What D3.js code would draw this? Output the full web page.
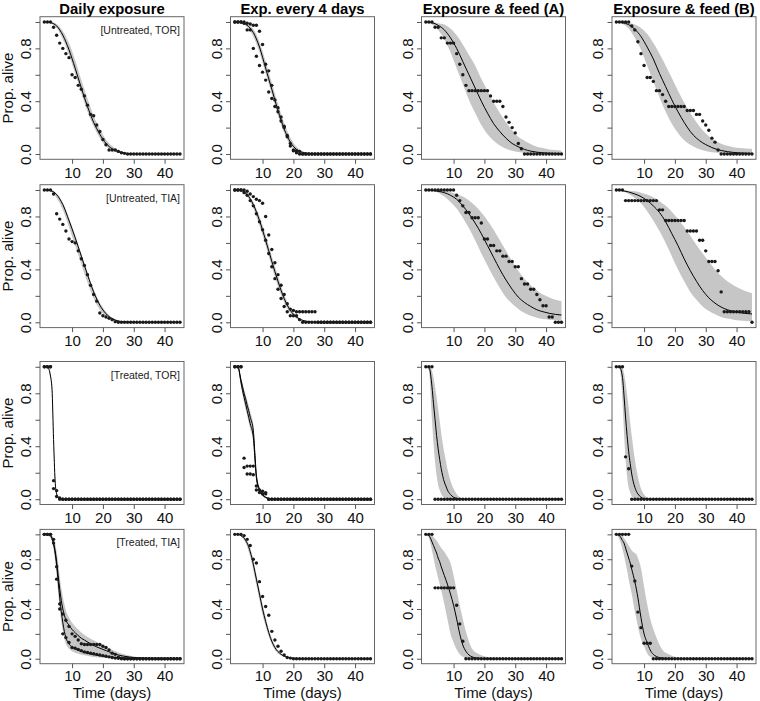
<!DOCTYPE html>
<meta charset="utf-8">

<style type="text/css">
  body {
    margin: 0;
    background: #fff;
  }

  svg {
    font-family: "Liberation Sans", Arial, Helvetica, sans-serif;
  }

  .tick line {
    stroke: #555;
  }

  .tick text {
    font-size: 15px;
    fill: #111;
  }
</style>

<body>
</body>

<script src="https://d3js.org/d3.v7.min.js"></script>
<script>
  // ---------- data ----------
  var columnTitles = ["Daily exposure", "Exp. every 4 days", "Exposure & feed (A)", "Exposure & feed (B)"];
  var rowTags = ["[Untreated, TOR]", "[Untreated, TIA]", "[Treated, TOR]", "[Treated, TIA]"];
  var xTicks = [10, 20, 30, 40];
  var yTicks = [0, 0.2, 0.4, 0.6, 0.8, 1];
  var yLabels = [0, 0.4, 0.8];

  var days = [1, 2, 3, 4, 5, 6, 7, 8, 9, 10, 11, 12, 13, 14, 15, 16, 17, 18, 19, 20, 21, 22, 23, 24, 25, 26, 27, 28, 29, 30,
    31, 32, 33, 34, 35, 36, 37, 38, 39, 40, 41, 42, 43, 44, 45];
  var gridA = [1, 3, 5, 7, 9, 11, 13, 15, 17, 19, 21, 23, 25, 27, 29, 31, 33, 35, 37, 39, 41, 43, 45];
  var gridB = [1, 2, 3, 3.5, 4, 4.5, 5, 5.5, 6, 7, 7.5, 8, 9, 10, 11, 12, 13, 14, 16, 18, 20, 25, 30, 35, 40, 45];

  // row 1 : untreated, TOR
  var ptsR1C1 = [1, 1, 1, 0.96, 0.90, 0.84, 0.80, 0.76, 0.73, 0.60, 0.58, 0.52, 0.49, 0.44, 0.37, 0.30, 0.29, 0.22, 0.17, 0.11, 0.07, 0.03, 0.03, 0.03, 0.02, 0.01, 0.005, 0, 0, 0, 0, 0, 0, 0, 0, 0, 0, 0, 0, 0, 0, 0, 0, 0, 0];
  var fitR1C1 = [1, 0.995, 0.97, 0.90, 0.79, 0.65, 0.50, 0.36, 0.24, 0.15, 0.08, 0.04, 0.018, 0.007, 0.002, 0, 0, 0, 0, 0, 0, 0, 0];
  var loR1C1 = [1, 0.99, 0.955, 0.87, 0.75, 0.61, 0.46, 0.32, 0.21, 0.12, 0.06, 0.025, 0.01, 0.003, 0.001, 0, 0, 0, 0, 0, 0, 0, 0];
  var hiR1C1 = [1, 1, 0.985, 0.93, 0.84, 0.71, 0.56, 0.42, 0.29, 0.19, 0.11, 0.06, 0.03, 0.012, 0.004, 0.001, 0, 0, 0, 0, 0, 0, 0];

  var ptsR1C2a = [1, 1, 1, 1, 0.99, 0.985, 0.975, 0.975, 0.93, 0.83, 0.68, 0.63, 0.52, 0.41, 0.35, 0.28, 0.21, 0.13, 0.08, 0.025, 0.025, 0.02, 0, 0, 0, 0, 0, 0, 0, 0, 0, 0, 0, 0, 0, 0, 0, 0, 0, 0, 0, 0, 0, 0, 0];
  var ptsR1C2b = [1, 1, 1, 0.99, 0.94, 0.94, 0.80, 0.74, 0.67, 0.62, 0.56, 0.47, 0.42, 0.36, 0.32, 0.25, 0.20, 0.14, 0.06, 0.03, 0.01, 0, 0, 0, 0, 0, 0, 0, 0, 0, 0, 0, 0, 0, 0, 0, 0, 0, 0, 0, 0, 0, 0, 0, 0];
  var fitR1C2 = [1, 0.995, 0.975, 0.92, 0.81, 0.65, 0.49, 0.33, 0.19, 0.09, 0.035, 0.012, 0.004, 0.001, 0, 0, 0, 0, 0, 0, 0, 0, 0];
  var loR1C2 = [1, 0.99, 0.96, 0.89, 0.77, 0.61, 0.45, 0.29, 0.16, 0.07, 0.025, 0.008, 0.002, 0, 0, 0, 0, 0, 0, 0, 0, 0, 0];
  var hiR1C2 = [1, 1, 0.985, 0.945, 0.85, 0.70, 0.54, 0.38, 0.235, 0.125, 0.055, 0.022, 0.008, 0.003, 0.001, 0, 0, 0, 0, 0, 0, 0, 0];

  var ptsR1C3 = [1, 1, 1, 0.96, 0.96, 0.88, 0.88, 0.84, 0.84, 0.84, 0.76, 0.68, 0.60, 0.52, 0.48, 0.48, 0.48, 0.48, 0.48, 0.48, 0.48, 0.44, 0.40, 0.40, 0.40, 0.36, 0.28, 0.24, 0.20, 0.16, 0.08, 0.04, 0, 0, 0, 0, 0, 0, 0, 0, 0, 0, 0, 0, 0];
  var fitR1C3 = [1, 0.995, 0.975, 0.94, 0.88, 0.80, 0.70, 0.60, 0.50, 0.40, 0.31, 0.23, 0.17, 0.12, 0.08, 0.055, 0.035, 0.022, 0.014, 0.009, 0.006, 0.004, 0.003];
  var loR1C3 = [1, 0.98, 0.94, 0.87, 0.77, 0.65, 0.53, 0.41, 0.31, 0.22, 0.15, 0.10, 0.065, 0.04, 0.025, 0.015, 0.01, 0.006, 0.004, 0.002, 0.001, 0.001, 0];
  var hiR1C3 = [1, 1, 0.99, 0.98, 0.95, 0.90, 0.83, 0.75, 0.67, 0.57, 0.48, 0.39, 0.31, 0.24, 0.18, 0.13, 0.10, 0.075, 0.055, 0.045, 0.035, 0.03, 0.025];

  var ptsR1C4 = [1, 1, 1, 1, 1, 0.97, 0.94, 0.85, 0.76, 0.67, 0.58, 0.58, 0.55, 0.48, 0.48, 0.45, 0.40, 0.36, 0.36, 0.36, 0.36, 0.36, 0.36, 0.33, 0.33, 0.33, 0.30, 0.30, 0.25, 0.22, 0.18, 0.12, 0.09, 0.03, 0, 0, 0, 0, 0, 0, 0, 0, 0, 0, 0];
  var fitR1C4 = [1, 0.995, 0.98, 0.945, 0.89, 0.81, 0.72, 0.61, 0.51, 0.41, 0.32, 0.24, 0.17, 0.12, 0.085, 0.06, 0.04, 0.027, 0.018, 0.012, 0.008, 0.006, 0.004];
  var loR1C4 = [1, 0.985, 0.95, 0.88, 0.79, 0.67, 0.55, 0.43, 0.32, 0.23, 0.16, 0.105, 0.07, 0.045, 0.028, 0.018, 0.012, 0.007, 0.005, 0.003, 0.002, 0.001, 0.001];
  var hiR1C4 = [1, 1, 0.995, 0.98, 0.955, 0.91, 0.84, 0.76, 0.67, 0.575, 0.48, 0.39, 0.31, 0.24, 0.18, 0.135, 0.10, 0.078, 0.062, 0.052, 0.046, 0.042, 0.04];

  // row 2 : untreated, TIA
  var ptsR2C1 = [1, 1, 1, 0.97, 0.82, 0.78, 0.74, 0.69, 0.63, 0.61, 0.60, 0.54, 0.48, 0.43, 0.36, 0.28, 0.21, 0.16, 0.07, 0.05, 0.04, 0.03, 0.02, 0.005, 0, 0, 0, 0, 0, 0, 0, 0, 0, 0, 0, 0, 0, 0, 0, 0, 0, 0, 0, 0, 0];
  var fitR2C1 = [1, 0.995, 0.965, 0.89, 0.77, 0.64, 0.50, 0.36, 0.23, 0.13, 0.065, 0.028, 0.01, 0.003, 0.001, 0, 0, 0, 0, 0, 0, 0, 0];
  var loR2C1 = [1, 0.99, 0.94, 0.85, 0.72, 0.58, 0.44, 0.30, 0.18, 0.095, 0.045, 0.018, 0.006, 0.002, 0, 0, 0, 0, 0, 0, 0, 0, 0];
  var hiR2C1 = [1, 1, 0.975, 0.905, 0.79, 0.66, 0.52, 0.38, 0.25, 0.15, 0.08, 0.036, 0.014, 0.005, 0.0015, 0, 0, 0, 0, 0, 0, 0, 0];

  var ptsR2C2a = [1, 1, 1, 1, 0.99, 0.97, 0.95, 0.93, 0.92, 0.90, 0.80, 0.66, 0.55, 0.45, 0.36, 0.28, 0.21, 0.14, 0.10, 0.09, 0.08, 0.08, 0.08, 0.08, 0.08, 0.08, 0.08, 0, 0, 0, 0, 0, 0, 0, 0, 0, 0, 0, 0, 0, 0, 0, 0, 0, 0];
  var ptsR2C2b = [1, 1, 1, 0.98, 0.96, 0.92, 0.88, 0.82, 0.76, 0.70, 0.62, 0.52, 0.42, 0.33, 0.25, 0.18, 0.12, 0.08, 0.05, 0.05, 0.05, 0.02, 0, 0, 0, 0, 0, 0, 0, 0, 0, 0, 0, 0, 0, 0, 0, 0, 0, 0, 0, 0, 0, 0, 0];
  var fitR2C2 = [1, 0.995, 0.965, 0.89, 0.77, 0.62, 0.46, 0.31, 0.18, 0.09, 0.04, 0.015, 0.005, 0.001, 0, 0, 0, 0, 0, 0, 0, 0, 0];
  var loR2C2 = [1, 0.99, 0.95, 0.86, 0.73, 0.58, 0.42, 0.27, 0.15, 0.07, 0.028, 0.01, 0.003, 0, 0, 0, 0, 0, 0, 0, 0, 0, 0];
  var hiR2C2 = [1, 1, 0.975, 0.91, 0.80, 0.66, 0.50, 0.35, 0.21, 0.11, 0.05, 0.02, 0.007, 0.002, 0, 0, 0, 0, 0, 0, 0, 0, 0];

  var ptsR2C3 = [1, 1, 1, 1, 1, 1, 1, 1, 1, 1, 0.96, 0.92, 0.88, 0.83, 0.83, 0.79, 0.79, 0.79, 0.75, 0.63, 0.63, 0.58, 0.58, 0.54, 0.54, 0.50, 0.50, 0.46, 0.46, 0.42, 0.42, 0.33, 0.29, 0.29, 0.25, 0.25, 0.21, 0.17, 0.125, 0.125, 0.04, 0.04, 0, 0, 0];
  var fitR2C3 = [1, 0.998, 0.99, 0.98, 0.96, 0.93, 0.88, 0.82, 0.75, 0.67, 0.58, 0.49, 0.40, 0.32, 0.25, 0.19, 0.15, 0.12, 0.095, 0.08, 0.068, 0.06, 0.055];
  var loR2C3 = [1, 0.99, 0.98, 0.95, 0.91, 0.86, 0.79, 0.71, 0.62, 0.52, 0.43, 0.34, 0.26, 0.19, 0.14, 0.10, 0.07, 0.05, 0.035, 0.025, 0.02, 0.015, 0.012];
  var hiR2C3 = [1, 1, 1, 0.995, 0.985, 0.97, 0.95, 0.92, 0.88, 0.83, 0.77, 0.70, 0.62, 0.54, 0.46, 0.39, 0.33, 0.28, 0.24, 0.21, 0.19, 0.17, 0.16];

  var ptsR2C4 = [1, 1, 1, 0.92, 0.92, 0.92, 0.92, 0.92, 0.92, 0.92, 0.92, 0.92, 0.92, 0.92, 0.85, 0.85, 0.77, 0.77, 0.77, 0.77, 0.77, 0.77, 0.77, 0.69, 0.69, 0.69, 0.69, 0.62, 0.62, 0.54, 0.46, 0.46, 0.46, 0.39, 0.23, 0.08, 0.08, 0.08, 0.08, 0.08, 0.08, 0.08, 0.08, 0.08, 0];
  var fitR2C4 = [1, 0.995, 0.985, 0.97, 0.95, 0.92, 0.88, 0.83, 0.76, 0.67, 0.58, 0.48, 0.39, 0.31, 0.24, 0.185, 0.145, 0.115, 0.095, 0.082, 0.073, 0.067, 0.063];
  var loR2C4 = [1, 0.99, 0.97, 0.94, 0.90, 0.84, 0.77, 0.69, 0.60, 0.50, 0.40, 0.31, 0.23, 0.17, 0.12, 0.085, 0.06, 0.04, 0.028, 0.02, 0.014, 0.01, 0.008];
  var hiR2C4 = [1, 1, 0.995, 0.99, 0.98, 0.965, 0.945, 0.915, 0.88, 0.835, 0.78, 0.72, 0.655, 0.585, 0.52, 0.46, 0.40, 0.35, 0.31, 0.28, 0.255, 0.235, 0.22];

  // row 3 : treated, TOR (curves on gridB)
  var ptsR3C1a = [1, 1, 1, 0.14, 0.065, 0.01, 0, 0, 0, 0, 0, 0, 0, 0, 0, 0, 0, 0, 0, 0, 0, 0, 0, 0, 0, 0, 0, 0, 0, 0, 0, 0, 0, 0, 0, 0, 0, 0, 0, 0, 0, 0, 0, 0, 0];
  var ptsR3C1b = [1, 1, 1, 0.08, 0.02, 0, 0, 0, 0, 0, 0, 0, 0, 0, 0, 0, 0, 0, 0, 0, 0, 0, 0, 0, 0, 0, 0, 0, 0, 0, 0, 0, 0, 0, 0, 0, 0, 0, 0, 0, 0, 0, 0, 0, 0];
  var fitR3C1 = [1, 1, 0.93, 0.83, 0.45, 0.14, 0.04, 0.015, 0.006, 0.001, 0, 0, 0, 0, 0, 0, 0, 0, 0, 0, 0, 0, 0, 0, 0, 0];
  var loR3C1 = [1, 1, 0.91, 0.79, 0.40, 0.11, 0.03, 0.01, 0.004, 0, 0, 0, 0, 0, 0, 0, 0, 0, 0, 0, 0, 0, 0, 0, 0, 0];
  var hiR3C1 = [1, 1, 0.95, 0.87, 0.50, 0.17, 0.05, 0.02, 0.008, 0.002, 0.001, 0, 0, 0, 0, 0, 0, 0, 0, 0, 0, 0, 0, 0, 0, 0];

  var ptsR3C2a = [1, 1, 1, 0.31, 0.25, 0.25, 0.25, 0.10, 0.07, 0.06, 0.05, 0, 0, 0, 0, 0, 0, 0, 0, 0, 0, 0, 0, 0, 0, 0, 0, 0, 0, 0, 0, 0, 0, 0, 0, 0, 0, 0, 0, 0, 0, 0, 0, 0, 0];
  var ptsR3C2b = [1, 1, 1, 0.24, 0.19, 0.19, 0.185, 0.07, 0.05, 0.04, 0.04, 0, 0, 0, 0, 0, 0, 0, 0, 0, 0, 0, 0, 0, 0, 0, 0, 0, 0, 0, 0, 0, 0, 0, 0, 0, 0, 0, 0, 0, 0, 0, 0, 0, 0];
  var fitR3C2a = [1, 1, 0.90, 0.85, 0.80, 0.76, 0.71, 0.67, 0.62, 0.52, 0.35, 0.18, 0.075, 0.035, 0.015, 0.006, 0.002, 0.001, 0, 0, 0, 0, 0, 0, 0, 0];
  var fitR3C2b = [1, 1, 0.88, 0.82, 0.77, 0.72, 0.67, 0.62, 0.57, 0.47, 0.31, 0.16, 0.065, 0.03, 0.012, 0.005, 0.002, 0.001, 0, 0, 0, 0, 0, 0, 0, 0];
  var loR3C2 = [1, 1, 0.86, 0.79, 0.73, 0.68, 0.63, 0.58, 0.53, 0.43, 0.28, 0.14, 0.055, 0.025, 0.01, 0.004, 0.001, 0, 0, 0, 0, 0, 0, 0, 0, 0];
  var hiR3C2 = [1, 1, 0.92, 0.88, 0.83, 0.79, 0.75, 0.71, 0.66, 0.56, 0.39, 0.21, 0.09, 0.045, 0.02, 0.008, 0.003, 0.001, 0, 0, 0, 0, 0, 0, 0, 0];

  var ptsR3C3 = [1, 1, 1, 0, 0, 0, 0, 0, 0, 0, 0, 0, 0, 0, 0, 0, 0, 0, 0, 0, 0, 0, 0, 0, 0, 0, 0, 0, 0, 0, 0, 0, 0, 0, 0, 0, 0, 0, 0, 0, 0, 0, 0, 0, 0];
  var fitR3C3 = [1, 1, 0.85, 0.72, 0.60, 0.48, 0.38, 0.30, 0.23, 0.13, 0.10, 0.07, 0.035, 0.015, 0.006, 0.002, 0.001, 0, 0, 0, 0, 0, 0, 0, 0, 0];
  var loR3C3 = [1, 0.97, 0.60, 0.42, 0.28, 0.18, 0.11, 0.07, 0.04, 0.012, 0.006, 0.003, 0.001, 0, 0, 0, 0, 0, 0, 0, 0, 0, 0, 0, 0, 0];
  var hiR3C3 = [1, 1, 0.97, 0.92, 0.85, 0.77, 0.68, 0.59, 0.50, 0.35, 0.29, 0.23, 0.14, 0.08, 0.04, 0.015, 0.005, 0.001, 0, 0, 0, 0, 0, 0, 0, 0];

  var ptsR3C4 = [1, 1, 1, 0.32, 0.23, 0, 0, 0, 0, 0, 0, 0, 0, 0, 0, 0, 0, 0, 0, 0, 0, 0, 0, 0, 0, 0, 0, 0, 0, 0, 0, 0, 0, 0, 0, 0, 0, 0, 0, 0, 0, 0, 0, 0, 0];
  var fitR3C4 = [1, 1, 0.92, 0.78, 0.62, 0.48, 0.36, 0.27, 0.19, 0.09, 0.06, 0.04, 0.015, 0.005, 0.002, 0, 0, 0, 0, 0, 0, 0, 0, 0, 0, 0];
  var loR3C4 = [1, 0.99, 0.75, 0.50, 0.30, 0.17, 0.09, 0.05, 0.025, 0.006, 0.003, 0.001, 0, 0, 0, 0, 0, 0, 0, 0, 0, 0, 0, 0, 0, 0];
  var hiR3C4 = [1, 1, 0.99, 0.95, 0.88, 0.79, 0.69, 0.58, 0.48, 0.30, 0.23, 0.17, 0.08, 0.035, 0.012, 0.004, 0.001, 0, 0, 0, 0, 0, 0, 0, 0, 0];

  // row 4 : treated, TIA (curves on gridB)
  var ptsR4C1a = [1, 1, 1, 0.96, 0.74, 0.44, 0.36, 0.31, 0.26, 0.20, 0.18, 0.15, 0.12, 0.115, 0.115, 0.115, 0.115, 0.115, 0.115, 0.10, 0.09, 0.07, 0.045, 0.035, 0.012, 0.005, 0, 0, 0, 0, 0, 0, 0, 0, 0, 0, 0, 0, 0, 0, 0, 0, 0, 0, 0];
  var ptsR4C1b = [1, 1, 1, 0.93, 0.64, 0.40, 0.20, 0.17, 0.13, 0.09, 0.085, 0.075, 0.065, 0.055, 0.05, 0.045, 0.04, 0.035, 0.03, 0.025, 0.02, 0.015, 0.01, 0.005, 0.003, 0, 0, 0, 0, 0, 0, 0, 0, 0, 0, 0, 0, 0, 0, 0, 0, 0, 0, 0, 0];
  var fitR4C1a = [1, 1, 0.99, 0.97, 0.93, 0.87, 0.78, 0.67, 0.56, 0.40, 0.35, 0.31, 0.27, 0.235, 0.21, 0.185, 0.165, 0.15, 0.12, 0.095, 0.075, 0.03, 0.01, 0.003, 0.001, 0];
  var fitR4C1b = [1, 1, 0.99, 0.965, 0.92, 0.85, 0.75, 0.62, 0.49, 0.29, 0.22, 0.17, 0.12, 0.095, 0.08, 0.068, 0.058, 0.05, 0.038, 0.028, 0.02, 0.008, 0.003, 0.001, 0, 0];
  var loR4C1 = [1, 0.99, 0.97, 0.94, 0.88, 0.79, 0.67, 0.53, 0.40, 0.22, 0.16, 0.12, 0.08, 0.06, 0.048, 0.04, 0.033, 0.027, 0.018, 0.012, 0.008, 0.002, 0, 0, 0, 0];
  var hiR4C1 = [1, 1, 1, 0.99, 0.97, 0.93, 0.86, 0.77, 0.66, 0.50, 0.44, 0.39, 0.33, 0.29, 0.26, 0.235, 0.21, 0.19, 0.16, 0.135, 0.11, 0.05, 0.018, 0.006, 0.002, 0];

  var ptsR4C2 = [1, 1, 1, 0.99, 0.96, 0.91, 0.80, 0.77, 0.62, 0.50, 0.42, 0.35, 0.22, 0.15, 0.10, 0.06, 0.03, 0.01, 0.005, 0, 0, 0, 0, 0, 0, 0, 0, 0, 0, 0, 0, 0, 0, 0, 0, 0, 0, 0, 0, 0, 0, 0, 0, 0, 0];
  var fitR4C2 = [1, 1, 0.99, 0.98, 0.97, 0.95, 0.93, 0.90, 0.86, 0.76, 0.70, 0.64, 0.52, 0.40, 0.30, 0.21, 0.14, 0.09, 0.035, 0.012, 0.004, 0, 0, 0, 0, 0];
  var loR4C2 = [1, 1, 0.985, 0.97, 0.955, 0.93, 0.90, 0.86, 0.82, 0.71, 0.65, 0.59, 0.47, 0.35, 0.26, 0.18, 0.115, 0.07, 0.025, 0.008, 0.002, 0, 0, 0, 0, 0];
  var hiR4C2 = [1, 1, 0.995, 0.99, 0.98, 0.965, 0.95, 0.925, 0.89, 0.80, 0.74, 0.68, 0.56, 0.44, 0.34, 0.24, 0.165, 0.11, 0.045, 0.017, 0.006, 0, 0, 0, 0, 0];

  var ptsR4C3 = [1, 1, 1, 0.57, 0.57, 0.57, 0.57, 0.57, 0.57, 0.57, 0.43, 0.28, 0.14, 0, 0, 0, 0, 0, 0, 0, 0, 0, 0, 0, 0, 0, 0, 0, 0, 0, 0, 0, 0, 0, 0, 0, 0, 0, 0, 0, 0, 0, 0, 0, 0];
  var fitR4C3 = [1, 0.99, 0.94, 0.91, 0.88, 0.85, 0.81, 0.78, 0.74, 0.67, 0.635, 0.60, 0.52, 0.43, 0.32, 0.20, 0.11, 0.06, 0.015, 0.004, 0.001, 0, 0, 0, 0, 0];
  var loR4C3 = [1, 0.97, 0.87, 0.81, 0.75, 0.70, 0.65, 0.60, 0.55, 0.44, 0.38, 0.32, 0.20, 0.13, 0.075, 0.035, 0.015, 0.005, 0.001, 0, 0, 0, 0, 0, 0, 0];
  var hiR4C3 = [1, 1, 0.99, 0.98, 0.965, 0.95, 0.93, 0.91, 0.89, 0.86, 0.84, 0.82, 0.77, 0.67, 0.55, 0.43, 0.32, 0.22, 0.08, 0.04, 0.02, 0.003, 0, 0, 0, 0];

  var ptsR4C4 = [1, 1, 1, 1, 1, 0.745, 0.625, 0.375, 0.25, 0.125, 0.125, 0.125, 0, 0, 0, 0, 0, 0, 0, 0, 0, 0, 0, 0, 0, 0, 0, 0, 0, 0, 0, 0, 0, 0, 0, 0, 0, 0, 0, 0, 0, 0, 0, 0, 0];
  var fitR4C4 = [1, 0.99, 0.95, 0.93, 0.89, 0.85, 0.81, 0.77, 0.72, 0.62, 0.56, 0.49, 0.33, 0.20, 0.13, 0.07, 0.035, 0.018, 0.005, 0.001, 0, 0, 0, 0, 0, 0];
  var loR4C4 = [1, 0.96, 0.88, 0.83, 0.77, 0.71, 0.64, 0.58, 0.52, 0.38, 0.32, 0.26, 0.16, 0.10, 0.045, 0.015, 0.005, 0.001, 0, 0, 0, 0, 0, 0, 0, 0];
  var hiR4C4 = [1, 1, 0.99, 0.97, 0.95, 0.93, 0.91, 0.89, 0.87, 0.85, 0.84, 0.81, 0.73, 0.58, 0.44, 0.32, 0.24, 0.17, 0.07, 0.035, 0.015, 0.001, 0, 0, 0, 0];

  // table of panels built from the arrays above
  var panels = [
    { r: 0, c: 0, grid: gridA, pts: [ptsR1C1], fits: [fitR1C1], bands: [[loR1C1, hiR1C1]] },
    { r: 0, c: 1, grid: gridA, pts: [ptsR1C2a, ptsR1C2b], fits: [fitR1C2], bands: [[loR1C2, hiR1C2]] },
    { r: 0, c: 2, grid: gridA, pts: [ptsR1C3], fits: [fitR1C3], bands: [[loR1C3, hiR1C3]] },
    { r: 0, c: 3, grid: gridA, pts: [ptsR1C4], fits: [fitR1C4], bands: [[loR1C4, hiR1C4]] },
    { r: 1, c: 0, grid: gridA, pts: [ptsR2C1], fits: [fitR2C1], bands: [[loR2C1, hiR2C1]] },
    { r: 1, c: 1, grid: gridA, pts: [ptsR2C2a, ptsR2C2b], fits: [fitR2C2], bands: [[loR2C2, hiR2C2]] },
    { r: 1, c: 2, grid: gridA, pts: [ptsR2C3], fits: [fitR2C3], bands: [[loR2C3, hiR2C3]] },
    { r: 1, c: 3, grid: gridA, pts: [ptsR2C4], fits: [fitR2C4], bands: [[loR2C4, hiR2C4]] },
    { r: 2, c: 0, grid: gridB, pts: [ptsR3C1a, ptsR3C1b], fits: [fitR3C1], bands: [[loR3C1, hiR3C1]] },
    { r: 2, c: 1, grid: gridB, pts: [ptsR3C2a, ptsR3C2b], fits: [fitR3C2a, fitR3C2b], bands: [[loR3C2, hiR3C2]] },
    { r: 2, c: 2, grid: gridB, pts: [ptsR3C3], fits: [fitR3C3], bands: [[loR3C3, hiR3C3]] },
    { r: 2, c: 3, grid: gridB, pts: [ptsR3C4], fits: [fitR3C4], bands: [[loR3C4, hiR3C4]] },
    { r: 3, c: 0, grid: gridB, pts: [ptsR4C1a, ptsR4C1b], fits: [fitR4C1a, fitR4C1b], bands: [[loR4C1, hiR4C1]] },
    { r: 3, c: 1, grid: gridB, pts: [ptsR4C2], fits: [fitR4C2], bands: [[loR4C2, hiR4C2]] },
    { r: 3, c: 2, grid: gridB, pts: [ptsR4C3], fits: [fitR4C3], bands: [[loR4C3, hiR4C3]] },
    { r: 3, c: 3, grid: gridB, pts: [ptsR4C4], fits: [fitR4C4], bands: [[loR4C4, hiR4C4]] }
  ];

  // ---------- layout ----------
  var width = 760,
    height = 701;
  var colLeft = [40, 230.5, 421.5, 612],
    panelW = 144;
  var rowTop = [16.7, 184.7, 361.5, 529.4],
    rowH = [142.6, 142.9, 143, 134.3];

  var svg = d3.select("body")
    .append("svg")
    .attr("width", width)
    .attr("height", height);

  panels.forEach(function(p) {
    var left = colLeft[p.c],
      top = rowTop[p.r],
      h = rowH[p.r];

    var x = d3.scaleLinear().domain([-0.4, 46.3]).range([left, left + panelW]);
    var y = d3.scaleLinear().domain([-0.04, 1.04]).range([top + h, top]);

    var g = svg.append("g");

    // confidence band
    p.bands.forEach(function(b) {
      var area = d3.area()
        .x(function(d, i) { return x(p.grid[i]); })
        .y0(function(d, i) { return y(b[0][i]); })
        .y1(function(d, i) { return y(b[1][i]); })
        .curve(d3.curveMonotoneX);
      g.append("path")
        .datum(p.grid)
        .attr("d", area)
        .attr("fill", "#c6c6c6");
    });

    // fitted curves
    p.fits.forEach(function(f) {
      var line = d3.line()
        .x(function(d, i) { return x(p.grid[i]); })
        .y(function(d) { return y(d); })
        .curve(d3.curveMonotoneX);
      g.append("path")
        .datum(f)
        .attr("d", line)
        .attr("fill", "none")
        .attr("stroke", "#000")
        .attr("stroke-width", 1);
    });

    // observed points
    p.pts.forEach(function(s) {
      g.selectAll(null)
        .data(s)
        .enter().append("circle")
        .attr("cx", function(d, i) { return x(days[i]); })
        .attr("cy", function(d) { return y(d); })
        .attr("r", 1.7)
        .attr("fill", "#1a1a1a");
    });

    // box
    g.append("rect")
      .attr("x", left)
      .attr("y", top)
      .attr("width", panelW)
      .attr("height", h)
      .attr("fill", "none")
      .attr("stroke", "#666")
      .attr("stroke-width", 1);

    // axes
    var ax = g.append("g")
      .attr("transform", "translate(0," + (top + h) + ")")
      .call(d3.axisBottom(x).tickValues(xTicks).tickSize(4.5).tickSizeOuter(0));
    ax.select(".domain").remove();
    ax.selectAll("text").attr("y", p.r === 3 ? 17.5 : 18.5).attr("dy", 0);

    var ay = g.append("g")
      .attr("transform", "translate(" + left + ",0)")
      .call(d3.axisLeft(y).tickValues(yTicks).tickSize(4.5).tickSizeOuter(0)
        .tickFormat(function(d) { return yLabels.indexOf(d) >= 0 ? d3.format(".1f")(d) : ""; }));
    ay.select(".domain").remove();
    ay.selectAll("text")
      .attr("transform", "rotate(-90)")
      .attr("x", 0)
      .attr("y", -9)
      .attr("dy", 0)
      .style("text-anchor", "middle");

    // row tag and y label in the first column
    if (p.c === 0) {
      g.append("text")
        .attr("x", left + panelW - 4)
        .attr("y", top + 17)
        .attr("text-anchor", "end")
        .style("font-size", "10.5px")
        .attr("fill", "#222")
        .text(rowTags[p.r]);

      g.append("text")
        .attr("transform", "translate(12.5," + y(0.5) + ") rotate(-90)")
        .attr("text-anchor", "middle")
        .style("font-size", "15px")
        .attr("fill", "#111")
        .text("Prop. alive");
    }

    if (p.r === 0) {
      g.append("text")
        .attr("x", left + panelW / 2)
        .attr("y", 13.6)
        .attr("text-anchor", "middle")
        .style("font-size", "14.8px")
        .style("font-weight", "bold")
        .attr("fill", "#000")
        .text(columnTitles[p.c]);
    }

    if (p.r === 3) {
      g.append("text")
        .attr("x", left + panelW / 2)
        .attr("y", 697.5)
        .attr("text-anchor", "middle")
        .style("font-size", "15px")
        .attr("fill", "#111")
        .text("Time (days)");
    }
  });
</script>
